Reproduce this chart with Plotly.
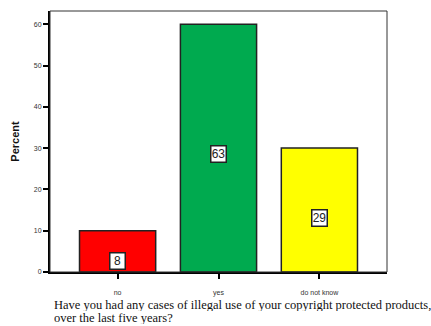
import plotly.graph_objects as go

# Survey answers and their plotted percentages
categories = ["no", "yes", "do not know"]
percent = [10, 60, 30]
label_values = [8, 63, 29]
bar_colors = ["#FF0000", "#00AA4F", "#FFFF00"]
y_ticks = [0, 10, 20, 30, 40, 50, 60]
question_lines = [
    "Have you had any cases of illegal use of your copyright protected products,",
    "over the last five years?",
]

fig = go.Figure()
fig.add_trace(go.Bar(
    x=categories,
    y=percent,
    width=0.755,
    marker=dict(color=bar_colors, line=dict(color="#222222", width=1.5)),
    hoverinfo="skip",
))

# Boxed value labels, placed a little below the middle of each bar
for cat, p, val in zip(categories, percent, label_values):
    fig.add_annotation(
        x=cat, y=0.52 * p - 2.6, xref="x", yref="y",
        text=str(val), showarrow=False,
        width=14, height=15,
        font=dict(family="Liberation Sans, Arial", size=12, color="#222222"),
        bgcolor="white", bordercolor="#222222", borderwidth=1.5, borderpad=0,
    )

# Question text below the axis, one annotation per line for tight spacing
for line, ypos in zip(question_lines, [-0.127, -0.177]):
    fig.add_annotation(
        x=0.009, y=ypos, xref="paper", yref="paper",
        xanchor="left", yanchor="middle", align="left", showarrow=False,
        text=line, height=12, borderpad=0,
        font=dict(family="Liberation Serif, Times New Roman", size=12.5, color="#111111"),
    )

# Thin frame around the plotting area
fig.add_shape(type="rect", xref="paper", yref="paper", x0=0, y0=0, x1=1, y1=1,
              line=dict(color="#333333", width=1), layer="above")

fig.update_layout(
    width=431, height=326,
    margin=dict(l=50, r=44, t=11, b=54),
    paper_bgcolor="white", plot_bgcolor="white",
    showlegend=False,
    xaxis=dict(
        range=[-0.67, 2.67],
        showline=True, linecolor="black", linewidth=2,
        ticks="outside", ticklen=5, tickwidth=1.5, tickcolor="black",
        ticklabelstandoff=8,
        tickfont=dict(family="Liberation Sans, Arial", size=7, color="#333333"),
        showgrid=False, zeroline=False, fixedrange=True,
    ),
    yaxis=dict(
        range=[0, 63.2],
        tickvals=y_ticks,
        showline=True, linecolor="black", linewidth=2,
        ticks="outside", ticklen=5, tickwidth=1.5, tickcolor="black",
        tickfont=dict(family="Liberation Sans, Arial", size=7, color="#333333"),
        showgrid=False, zeroline=False, fixedrange=True,
        title=dict(text="<b>Percent</b>", standoff=12,
                   font=dict(family="Liberation Sans, Arial", size=11, color="#111111")),
    ),
)

fig.write_html("out.html")
